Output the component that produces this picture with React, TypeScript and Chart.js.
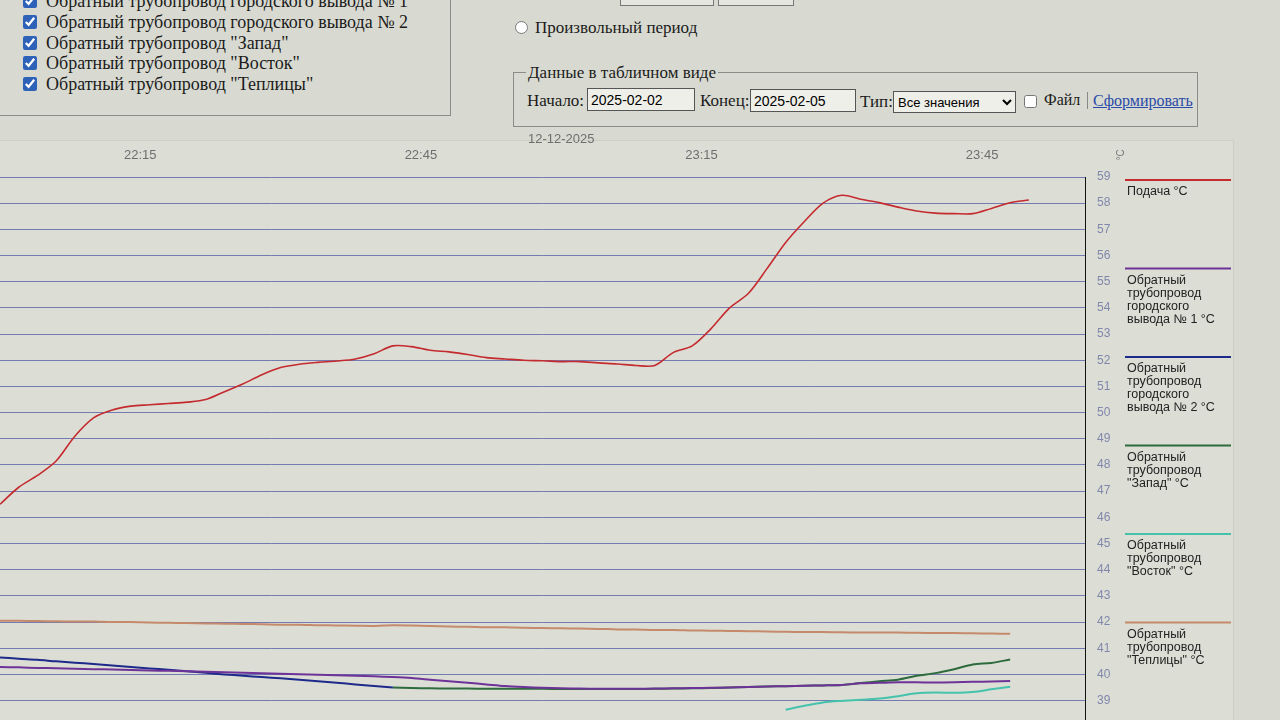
import React, { useEffect, useRef } from "react";
import { Chart, registerables } from "chart.js";

Chart.register(...registerables);

// ---------- data ----------
const times = [
  "22:00", "22:02", "22:04", "22:06", "22:08", "22:10", "22:12", "22:14", "22:16", "22:18",
  "22:20", "22:22", "22:24", "22:26", "22:28", "22:30", "22:32", "22:34", "22:36", "22:38",
  "22:40", "22:42", "22:44", "22:46", "22:48", "22:50", "22:52", "22:54", "22:56", "22:58",
  "23:00", "23:02", "23:04", "23:06", "23:08", "23:10", "23:12", "23:14", "23:16", "23:18",
  "23:20", "23:22", "23:24", "23:26", "23:28", "23:30", "23:32", "23:34", "23:36", "23:38",
  "23:40", "23:42", "23:44", "23:46", "23:48", "23:50",
];

const supply = [
  46.5, 47.15, 47.6, 48.15, 49.1, 49.8, 50.1, 50.25, 50.3, 50.35,
  50.4, 50.5, 50.8, 51.1, 51.45, 51.72, 51.85, 51.92, 51.97, 52.05,
  52.25, 52.55, 52.52, 52.38, 52.32, 52.22, 52.1, 52.05, 52.0, 51.98,
  51.95, 51.95, 51.9, 51.86, 51.8, 51.8, 52.3, 52.55, 53.2, 54.0,
  54.55, 55.5, 56.5, 57.3, 58.0, 58.3, 58.15, 58.02, 57.85, 57.7,
  57.62, 57.6, 57.6, 57.8, 58.02, 58.12,
];

const returnCity1 = [
  40.28, 40.27, 40.25, 40.24, 40.22, 40.2, 40.19, 40.17, 40.15, 40.14,
  40.12, 40.1, 40.08, 40.06, 40.05, 40.03, 40.01, 39.99, 39.97, 39.95,
  39.93, 39.9, 39.86, 39.8, 39.74, 39.68, 39.62, 39.56, 39.52, 39.49,
  39.47, 39.46, 39.45, 39.45, 39.45, 39.46, 39.47, 39.48, 39.49, 39.5,
  39.52, 39.54, 39.55, 39.57, 39.58, 39.6, 39.66, 39.68, 39.7, 39.7,
  39.69, 39.7, 39.72, 39.73, 39.75, null,
];

const returnCity2 = [
  40.65, 40.6, 40.56, 40.5, 40.45, 40.4, 40.34, 40.28, 40.23, 40.18,
  40.12, 40.06, 40.0, 39.95, 39.9, 39.85, 39.8, 39.74, 39.68, 39.62,
  39.56, 39.5, null, null, null, null, null, null, null, null,
  null, null, null, null, null, null, null, null, null, null,
  null, null, null, null, null, null, null, null, null, null,
  null, null, null, null, null, null,
];

const returnWest = [
  null, null, null, null, null, null, null, null, null, null,
  null, null, null, null, null, null, null, null, null, null,
  null, 39.5, 39.48, 39.47, 39.46, 39.46, 39.45, 39.45, 39.45, 39.45,
  39.44, 39.44, 39.44, 39.44, 39.44, 39.45, 39.46, 39.47, 39.48, 39.5,
  39.52, 39.54, 39.55, 39.57, 39.58, 39.6, 39.67, 39.74, 39.8, 39.95,
  40.05, 40.2, 40.38, 40.44, 40.57, null,
];

const returnEast = [
  null, null, null, null, null, null, null, null, null, null,
  null, null, null, null, null, null, null, null, null, null,
  null, null, null, null, null, null, null, null, null, null,
  null, null, null, null, null, null, null, null, null, null,
  null, null, 38.65, 38.8, 38.93, 38.99, 39.03, 39.08, 39.17, 39.28,
  39.31, 39.3, 39.33, 39.43, 39.53, null,
];

const returnGreenhouse = [
  42.05, 42.05, 42.04, 42.03, 42.02, 42.02, 42.0, 42.0, 41.98, 41.97,
  41.96, 41.95, 41.94, 41.93, 41.92, 41.9, 41.9, 41.88, 41.87, 41.86,
  41.85, 41.88, 41.87, 41.85, 41.83, 41.82, 41.8, 41.8, 41.78, 41.77,
  41.76, 41.75, 41.74, 41.72, 41.72, 41.7, 41.7, 41.68, 41.67, 41.66,
  41.65, 41.64, 41.63, 41.62, 41.62, 41.61, 41.6, 41.6, 41.6, 41.59,
  41.58, 41.58, 41.57, 41.56, 41.55, null,
];

const seriesLabels = [
  ["Подача °C"],
  ["Обратный", "трубопровод", "городского", "вывода № 1 °C"],
  ["Обратный", "трубопровод", "городского", "вывода № 2 °C"],
  ["Обратный", "трубопровод", "\"Запад\" °C"],
  ["Обратный", "трубопровод", "\"Восток\" °C"],
  ["Обратный", "трубопровод", "\"Теплицы\" °C"],
];
const seriesColors = ["#c42a2e", "#6e3398", "#1d2a8c", "#2d6a3c", "#45c2ab", "#c58a6b"];

const xTickTimes = ["22:15", "22:45", "23:00", "23:15", "23:45"];
const xTickLabels = [["22:15"], ["22:45"], ["12-12-2025", ""], ["23:15"], ["23:45"]];
const xMinTime = "22:00";
const xMaxTime = "23:56";
const yMin = 38;
const yMax = 59;

const checkboxItems = [
  "Обратный трубопровод городского вывода № 1",
  "Обратный трубопровод городского вывода № 2",
  "Обратный трубопровод \"Запад\"",
  "Обратный трубопровод \"Восток\"",
  "Обратный трубопровод \"Теплицы\"",
];

// ---------- helpers ----------
const toMin = (s: string) => {
  const [h, m] = s.split(":").map(Number);
  return h * 60 + m;
};

const sideLegend = {
  id: "sideLegend",
  afterDraw(chart: any) {
    const { ctx, chartArea } = chart;
    const x0 = chartArea.right + 40;
    ctx.save();
    ctx.font = "12.5px 'Liberation Sans', Arial, sans-serif";
    ctx.textBaseline = "middle";
    ctx.textAlign = "left";
    seriesLabels.forEach((lines, i) => {
      const y = chartArea.top + 3 + i * 88.5;
      ctx.strokeStyle = seriesColors[i];
      ctx.lineWidth = 2;
      ctx.beginPath();
      ctx.moveTo(x0, y);
      ctx.lineTo(x0 + 106, y);
      ctx.stroke();
      ctx.fillStyle = "#222";
      lines.forEach((ln, j) => ctx.fillText(ln, x0 + 2, y + 12 + j * 13));
    });
    ctx.translate(chartArea.right + 36, chartArea.top - 22);
    ctx.rotate(-Math.PI / 2);
    ctx.font = "10px 'Liberation Sans', Arial, sans-serif";
    ctx.fillStyle = "#777";
    ctx.textAlign = "center";
    ctx.fillText("°C", 0, 0);
    ctx.restore();
  },
};

function ChartCanvas() {
  const ref = useRef<HTMLCanvasElement | null>(null);
  useEffect(() => {
    if (!ref.current) return;
    const series = [supply, returnCity1, returnCity2, returnWest, returnEast, returnGreenhouse];
    const chart = new Chart(ref.current, {
      type: "line",
      data: {
        datasets: series.map((vals, i) => ({
          label: seriesLabels[i].join(" "),
          data: times.map((t, k) => ({ x: toMin(t), y: vals[k] })),
          borderColor: seriesColors[i],
          backgroundColor: seriesColors[i],
          borderWidth: i === 0 ? 1.6 : 2,
          pointRadius: 0,
          tension: 0.3,
          fill: false,
        })),
      },
      options: {
        animation: false,
        responsive: false,
        maintainAspectRatio: false,
        layout: { padding: { left: 0, right: 0, top: 0, bottom: 0 } },
        plugins: { legend: { display: false }, tooltip: { enabled: false } },
        scales: {
          x: {
            type: "linear",
            position: "top",
            min: toMin(xMinTime),
            max: toMin(xMaxTime),
            grid: { display: false, drawTicks: false },
            border: { display: false },
            afterBuildTicks: (scale: any) => {
              scale.ticks = xTickTimes.map((t) => ({ value: toMin(t) }));
            },
            afterFit: (scale: any) => {
              scale.height = 47;
            },
            ticks: {
              autoSkip: false,
              maxRotation: 0,
              padding: 14,
              color: "#6e6e6e",
              font: { family: "'Liberation Sans', Arial, sans-serif", size: 13 },
              callback: (value: any) => {
                const idx = xTickTimes.findIndex((t) => toMin(t) === value);
                return idx >= 0 ? xTickLabels[idx] : "";
              },
            },
          },
          y: {
            position: "right",
            min: yMin,
            max: yMax,
            grid: { color: "rgba(80,90,165,0.75)", lineWidth: 1, drawTicks: false },
            border: { display: true, color: "#111", width: 1 },
            afterFit: (scale: any) => {
              scale.width = 155;
            },
            ticks: {
              stepSize: 1,
              maxTicksLimit: 100,
              autoSkip: false,
              padding: 12,
              color: "#8087ab",
              font: { family: "'Liberation Sans', Arial, sans-serif", size: 12 },
            },
          },
        },
      },
      plugins: [sideLegend],
    });
    return () => chart.destroy();
  }, []);
  return (
    <canvas
      ref={ref}
      width={1240}
      height={616}
      style={{ position: "absolute", left: 0, top: 130, width: 1240, height: 616 }}
    />
  );
}

const abs = (x: number, y: number, extra: React.CSSProperties = {}): React.CSSProperties => ({
  position: "absolute",
  left: x,
  top: y,
  transform: "translateY(-50%)",
  whiteSpace: "nowrap",
  lineHeight: 1,
  ...extra,
});

export default function App() {
  const serif = "'Liberation Serif', 'Times New Roman', serif";
  const sans = "'Liberation Sans', Arial, sans-serif";
  return (
    <div
      style={{
        position: "fixed",
        left: 0,
        top: 0,
        width: 1280,
        height: 720,
        overflow: "hidden",
        background: "#d8dad1",
        fontFamily: serif,
        color: "#1b1b1b",
      }}
    >
      {/* left checkbox group */}
      <div
        style={{
          position: "absolute",
          left: -10,
          top: -30,
          width: 459,
          height: 144,
          border: "1px solid #8b8b87",
        }}
      />
      {checkboxItems.map((txt, i) => {
        const cy = 1 + i * 20.8;
        return (
          <React.Fragment key={txt}>
            <input
              type="checkbox"
              defaultChecked
              style={{
                position: "absolute",
                left: 23,
                top: cy - 7,
                width: 14,
                height: 14,
                margin: 0,
                accentColor: "#2d62b8",
              }}
            />
            <span style={abs(46, cy, { fontSize: 18 })}>{txt}</span>
          </React.Fragment>
        );
      })}

      {/* top buttons (cut off) */}
      <div style={{ position: "absolute", left: 620, top: -20, width: 92, height: 24, border: "1px solid #777", background: "#e6e6e0" }} />
      <div style={{ position: "absolute", left: 718, top: -20, width: 74, height: 24, border: "1px solid #777", background: "#e6e6e0" }} />

      {/* radio */}
      <input
        type="radio"
        name="period"
        style={{ position: "absolute", left: 515, top: 21, width: 13, height: 13, margin: 0 }}
      />
      <span style={abs(535, 27, { fontSize: 17 })}>Произвольный период</span>

      {/* table data fieldset */}
      <div
        style={{
          position: "absolute",
          left: 513,
          top: 72,
          width: 683,
          height: 53,
          border: "1px solid #8b8b87",
        }}
      />
      <span style={abs(526, 72, { fontSize: 17, background: "#d8dad1", padding: "0 2px" })}>
        Данные в табличном виде
      </span>
      <span style={abs(527, 100, { fontSize: 17 })}>Начало:</span>
      <input
        readOnly
        defaultValue="2025-02-02"
        style={{
          position: "absolute",
          left: 587,
          top: 88,
          width: 108,
          height: 23,
          boxSizing: "border-box",
          border: "1px solid #555",
          background: "#efefe9",
          fontFamily: sans,
          fontSize: 14,
          padding: "0 3px",
          margin: 0,
        }}
      />
      <span style={abs(700, 100, { fontSize: 17 })}>Конец:</span>
      <input
        readOnly
        defaultValue="2025-02-05"
        style={{
          position: "absolute",
          left: 750,
          top: 89,
          width: 106,
          height: 23,
          boxSizing: "border-box",
          border: "1px solid #555",
          background: "#efefe9",
          fontFamily: sans,
          fontSize: 14,
          padding: "0 3px",
          margin: 0,
        }}
      />
      <span style={abs(860, 101, { fontSize: 17 })}>Тип:</span>
      <select
        defaultValue="all"
        style={{
          position: "absolute",
          left: 893,
          top: 91,
          width: 123,
          height: 22,
          fontFamily: sans,
          fontSize: 13,
          border: "1px solid #555",
          background: "#efefe9",
          margin: 0,
        }}
      >
        <option value="all">Все значения</option>
      </select>
      <input
        type="checkbox"
        style={{ position: "absolute", left: 1024, top: 95, width: 13, height: 13, margin: 0 }}
      />
      <span style={abs(1044, 100, { fontSize: 16 })}>Файл</span>
      <div style={{ position: "absolute", left: 1087, top: 92, width: 1, height: 17, background: "#888" }} />
      <a
        href="#"
        style={abs(1093, 101, { fontSize: 16, color: "#2a4aa8", textDecoration: "underline" })}
      >
        Сформировать
      </a>

      {/* chart panel */}
      <div
        style={{
          position: "absolute",
          left: -1,
          top: 140,
          width: 1234,
          height: 700,
          borderTop: "1px solid #cdcec6",
          borderRight: "1px solid #cdcec6",
          background: "#dcded6",
        }}
      />
      <ChartCanvas />
    </div>
  );
}
